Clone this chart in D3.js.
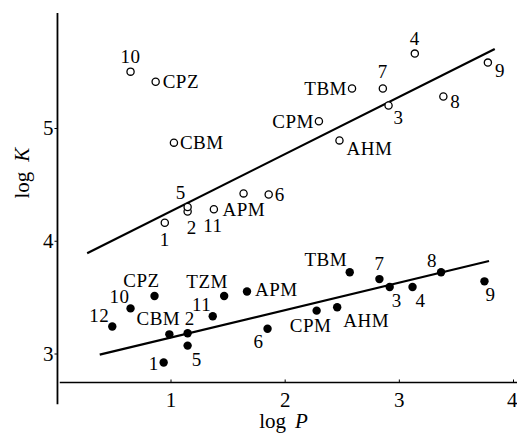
<!DOCTYPE html>
<html>
<head>
<meta charset="utf-8">
<script src="https://cdn.jsdelivr.net/npm/d3@7"></script>
<style>
  body { margin: 0; background: #fff; }
  svg { display: block; font-family: "Liberation Serif", "DejaVu Serif", serif; }
</style>
</head>
<body>
<div id="chart"></div>
<script>
// values (log P vs log K)

// open circles (upper series)
var openNames = ["1", "2", "3", "4", "5", "6", "7", "8", "9", "10", "11",
  "CPZ", "CBM", "TBM", "CPM", "AHM", "APM"];
var openLogP = [0.95, 1.15, 2.91, 3.14, 1.15, 1.86, 2.86, 3.39, 3.78, 0.65, 1.38,
  0.87, 1.03, 2.59, 2.30, 2.48, 1.64];
var openLogK = [4.16, 4.26, 5.20, 5.66, 4.30, 4.41, 5.35, 5.28, 5.58, 5.50, 4.28,
  5.41, 4.87, 5.35, 5.06, 4.89, 4.42];

// filled circles (lower series)
var filledNames = ["1", "2", "3", "4", "5", "6", "7", "8", "9", "10", "11", "12",
  "CPZ", "CBM", "TZM", "APM", "TBM", "CPM", "AHM"];
var filledLogP = [0.94, 1.15, 2.92, 3.12, 1.15, 1.85, 2.83, 3.37, 3.75, 0.65, 1.37, 0.49,
  0.86, 0.99, 1.47, 1.67, 2.57, 2.28, 2.46];
var filledLogK = [2.92, 3.18, 3.59, 3.59, 3.07, 3.22, 3.66, 3.72, 3.64, 3.40, 3.33, 3.24,
  3.51, 3.17, 3.51, 3.55, 3.72, 3.38, 3.41];

// fitted lines (end points)
var upperFitP = [0.27, 3.84];
var upperFitK = [3.89, 5.70];
var lowerFitP = [0.38, 3.79];
var lowerFitK = [2.99, 3.82];

var xTicks = [1, 2, 3, 4];
var yTicks = [3, 4, 5];

// label placement: [dx, dy, anchor]
var openLabelPos = {
  "1": [0, 17, "middle"], "2": [4, 16, "middle"], "3": [10, 12, "middle"],
  "4": [0, -15, "middle"], "5": [-7, -15, "middle"], "6": [6, 0, "start"],
  "7": [0, -17, "middle"], "8": [7, 5, "start"], "9": [7, 8, "start"],
  "10": [0, -15, "middle"], "11": [-1, 16, "middle"],
  "CPZ": [7, 0, "start"], "CBM": [6, 0, "start"], "TBM": [-5, 0, "end"],
  "CPM": [-5, 0, "end"], "AHM": [7, 8, "start"], "APM": [-21, 16, "start"]
};
var filledLabelPos = {
  "1": [-10, 1, "middle"], "2": [2, -15, "middle"], "3": [7, 13, "middle"],
  "4": [8, 13, "middle"], "5": [9, 14, "middle"], "6": [-9, 13, "middle"],
  "7": [0, -16, "middle"], "8": [-9, -12, "middle"], "9": [6, 13, "middle"],
  "10": [-11, -12, "middle"], "11": [-11, -12, "middle"], "12": [-13, -11, "middle"],
  "CPZ": [-13, -16, "middle"], "CBM": [-11, -16, "middle"], "TZM": [-17, -15, "middle"],
  "APM": [8, -2, "start"], "TBM": [-24, -13, "middle"], "CPM": [-6, 15, "middle"],
  "AHM": [29, 13, "middle"]
};

var width = 517, height = 434;

var x = d3.scaleLinear().domain([1, 4]).range([170.5, 513]);
var y = d3.scaleLinear().domain([3, 5]).range([353.5, 128]);

var svg = d3.select("#chart").append("svg")
  .attr("width", width)
  .attr("height", height);

// axis frame
svg.append("line")
  .attr("x1", x(0.01)).attr("x2", x(0.01))
  .attr("y1", y(6.02)).attr("y2", y(2.55))
  .attr("stroke", "#000").attr("stroke-width", 1.8);
svg.append("line")
  .attr("x1", x(0.03)).attr("x2", x(4.1))
  .attr("y1", y(2.743)).attr("y2", y(2.743))
  .attr("stroke", "#000").attr("stroke-width", 1.6);

var xAxis = svg.append("g")
  .attr("transform", "translate(0," + y(2.743) + ")")
  .call(d3.axisBottom(x).tickValues(xTicks).tickFormat(d3.format("d"))
    .tickSizeInner(-3).tickSizeOuter(0).tickPadding(10));
xAxis.select(".domain").remove();
xAxis.selectAll("text").attr("font-size", 21).attr("font-family", "Liberation Serif").attr("fill", "#000");
// last label sits right at the page edge: keep it inside
xAxis.selectAll("text").filter(function (d) { return d === 4; })
  .attr("text-anchor", "end").attr("dx", 4);

var yAxis = svg.append("g")
  .attr("transform", "translate(" + x(0.01) + ",0)")
  .call(d3.axisLeft(y).tickValues(yTicks).tickFormat(d3.format("d"))
    .tickSize(3).tickSizeOuter(0).tickPadding(1));
yAxis.select(".domain").remove();
yAxis.selectAll("text").attr("font-size", 21).attr("font-family", "Liberation Serif").attr("fill", "#000");

// axis titles
var xTitle = svg.append("text")
  .attr("x", x(1.99)).attr("y", 428)
  .attr("text-anchor", "middle")
  .attr("font-size", 21);
xTitle.append("tspan").text("log");
xTitle.append("tspan").attr("dx", 9).attr("font-style", "italic").text("P");

var yTitle = svg.append("text")
  .attr("transform", "translate(29," + y(4.6) + ") rotate(-90)")
  .attr("text-anchor", "middle")
  .attr("font-size", 21);
yTitle.append("tspan").text("log");
yTitle.append("tspan").attr("dx", 10).attr("font-style", "italic").text("K");

// fitted lines
function fitLine(ps, ks) {
  svg.append("line")
    .attr("x1", x(ps[0])).attr("y1", y(ks[0]))
    .attr("x2", x(ps[1])).attr("y2", y(ks[1]))
    .attr("stroke", "#000").attr("stroke-width", 2.2);
}
fitLine(upperFitP, upperFitK);
fitLine(lowerFitP, lowerFitK);

// points
var openData = openNames.map(function (n, i) { return { name: n, p: openLogP[i], k: openLogK[i] }; });
var filledData = filledNames.map(function (n, i) { return { name: n, p: filledLogP[i], k: filledLogK[i] }; });

svg.append("g").selectAll("circle")
  .data(openData).enter().append("circle")
  .attr("cx", function (d) { return x(d.p); })
  .attr("cy", function (d) { return y(d.k); })
  .attr("r", 3.6)
  .attr("fill", "#fff")
  .attr("stroke", "#000")
  .attr("stroke-width", 1.3);

svg.append("g").selectAll("circle")
  .data(filledData).enter().append("circle")
  .attr("cx", function (d) { return x(d.p); })
  .attr("cy", function (d) { return y(d.k); })
  .attr("r", 4.2)
  .attr("fill", "#000");

function labels(data, pos) {
  svg.append("g").selectAll("text")
    .data(data).enter().append("text")
    .attr("x", function (d) { return x(d.p) + pos[d.name][0]; })
    .attr("y", function (d) { return y(d.k) + pos[d.name][1]; })
    .attr("dy", "0.35em")
    .attr("text-anchor", function (d) { return pos[d.name][2]; })
    .attr("font-size", 19)
    .attr("letter-spacing", 0.5)
    .attr("fill", "#000")
    .text(function (d) { return d.name; });
}
labels(openData, openLabelPos);
labels(filledData, filledLabelPos);
</script>
</body>
</html>
